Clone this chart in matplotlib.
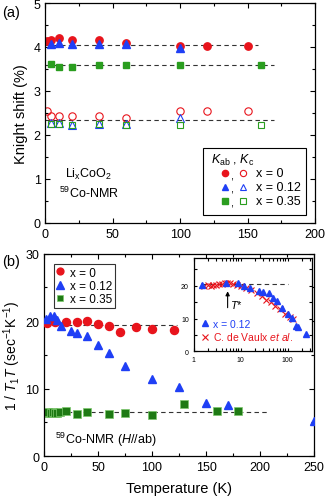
import numpy as np
import matplotlib
matplotlib.use("Agg")
import matplotlib.pyplot as plt
from matplotlib.patches import Rectangle
from matplotlib.ticker import MultipleLocator

plt.rcParams['font.family'] = ['Liberation Sans', 'DejaVu Sans']
plt.rcParams['mathtext.fontset'] = 'custom'
plt.rcParams['mathtext.rm'] = 'Liberation Sans'
plt.rcParams['mathtext.it'] = 'Liberation Sans:italic'

RED = '#e8141c'
BLUE = '#1f3ff5'
GREEN_A = '#2a9d1f'
GREEN_B = '#1e7a14'

# ---- (a) Knight shift ----
T_k0 = [1.5, 4.2, 10, 20, 40, 60, 100, 120, 150]
Kab_0 = [4.14, 4.17, 4.20, 4.15, 4.15, 4.09, 4.03, 4.03, 4.03]
Kc_0 = [2.54, 2.42, 2.42, 2.44, 2.44, 2.39, 2.55, 2.55, 2.55]

T_k12 = [4.2, 10, 20, 40, 60, 100]
Kab_12 = [4.07, 4.08, 4.06, 4.06, 4.06, 3.98]
Kc_12 = [2.27, 2.27, 2.23, 2.25, 2.25, 2.39]

T_k35 = [4.2, 10, 20, 40, 60, 100, 160]
Kab_35 = [3.61, 3.55, 3.55, 3.58, 3.60, 3.60, 3.60]
Kc_35 = [2.24, 2.24, 2.22, 2.24, 2.22, 2.22, 2.23]

# guide lines in (a): level, T start, T end
guides_a = [(4.05, 0, 158), (3.60, 0, 170), (2.33, 0, 170)]

# ---- (b) 1/T1T ----
T_r0 = [3, 10, 20, 30, 40, 50, 60, 70, 85, 100, 120]
r_0 = [19.7, 19.8, 19.8, 19.9, 20.0, 19.5, 19.3, 18.4, 19.1, 18.8, 18.7]

T_r12 = [1.5, 5, 9, 12, 16, 25, 30, 40, 50, 60, 75, 100, 125, 150, 170, 250]
r_12 = [20.3, 20.8, 20.8, 20.1, 19.3, 18.5, 18.2, 17.8, 16.4, 15.3, 13.3,
        11.4, 10.2, 7.8, 7.6, 5.2]

T_r35 = [2, 4, 6, 8, 10, 12, 15, 20, 30, 40, 60, 75, 100, 130, 160, 180]
r_35 = [6.4, 6.5, 6.4, 6.5, 6.4, 6.4, 6.5, 6.6, 6.2, 6.5, 6.2, 6.3, 6.1,
        7.7, 6.6, 6.6]

guides_b = [(19.4, 0, 123), (6.5, 0, 208)]

# de Vaulx et al. (inset)
T_dv = [1.7, 2.0, 2.3, 2.6, 3.0, 3.5, 4.0, 4.6, 5.2, 6.0, 7.0, 8.5, 10,
        13, 17, 22, 28, 35, 45, 55, 70, 90, 110, 130]
r_dv = [20.0, 20.2, 20.1, 20.3, 20.4, 20.5, 20.6, 20.9, 21.0, 20.8, 20.5,
        20.3, 20.0, 19.5, 18.8, 17.8, 16.8, 15.8, 15.0, 14.0, 12.8, 11.3,
        10.5, 10.0]
guide_inset = (20.5, 1.5, 100)
T_star = 5.3

fig = plt.figure(figsize=(3.27, 5.02), dpi=100)

def style(ax):
    ax.tick_params(which='both', direction='in', top=True, right=True,
                   labelsize=9, width=0.8)
    ax.tick_params(which='major', length=3.5)
    ax.tick_params(which='minor', length=2)
    for s in ax.spines.values():
        s.set_linewidth(0.9)

# ---------------- panel (a) ----------------
axa = fig.add_axes([0.139, 0.554, 0.824, 0.438])
style(axa)
for y0, x0, x1 in guides_a:
    axa.plot([x0, x1], [y0, y0], ls=(0, (4, 3)), color='#333333', lw=0.8, zorder=1)
ms = 5.3
axa.plot(T_k0, Kc_0, 'o', mfc='none', mec=RED, mew=0.8, ms=ms)
axa.plot(T_k12, Kc_12, '^', mfc='none', mec=BLUE, mew=0.8, ms=ms)
axa.plot(T_k35, Kc_35, 's', mfc='none', mec=GREEN_A, mew=0.8, ms=ms - 0.5)
axa.plot(T_k35, Kab_35, 's', color=GREEN_A, ms=ms - 0.3)
axa.plot(T_k0, Kab_0, 'o', color=RED, ms=ms)
axa.plot(T_k12, Kab_12, '^', color=BLUE, ms=ms)
axa.set_xlim(0, 200)
axa.set_ylim(0, 5)
axa.xaxis.set_major_locator(MultipleLocator(50))
axa.xaxis.set_minor_locator(MultipleLocator(25))
axa.yaxis.set_major_locator(MultipleLocator(1))
axa.yaxis.set_minor_locator(MultipleLocator(0.5))
axa.set_ylabel('Knight shift (%)', fontsize=10.5, labelpad=4)
axa.text(0.16, 0.225, r'Li$_{\rm x}$CoO$_2$', transform=axa.transAxes,
         ha='center', va='center', fontsize=9)
axa.text(0.16, 0.14, r'$^{59}$Co-NMR', transform=axa.transAxes,
         ha='center', va='center', fontsize=9)

# hand-made legend (filled , open)
tr = axa.transAxes
axa.add_patch(Rectangle((0.584, 0.036), 0.383, 0.305, transform=tr,
                        fill=True, fc='white', ec='black', lw=0.8, zorder=5))
axa.text(0.613, 0.29, r'$K_{\rm ab}$ , $K_{\rm c}$', transform=tr, fontsize=9,
         ha='left', va='center', zorder=6)
rows = [('o', RED, RED, 'x = 0', 0.227),
        ('^', BLUE, BLUE, 'x = 0.12', 0.165),
        ('s', GREEN_A, GREEN_A, 'x = 0.35', 0.101)]
for mk, fc, ec, lab, yy in rows:
    axa.plot([0.666], [yy], mk, color=fc, ms=4.5, transform=tr, zorder=6,
             clip_on=False)
    axa.text(0.69, yy - 0.01, ',', transform=tr, fontsize=8, ha='center',
             va='center', zorder=6)
    axa.plot([0.732], [yy], mk, mfc='none', mec=ec, mew=0.8, ms=4.5,
             transform=tr, zorder=6, clip_on=False)
    axa.text(0.781, yy, lab, transform=tr, fontsize=9, ha='left',
             va='center', zorder=6)

fig.text(0.005, 0.975, '(a)', fontsize=10.5, ha='left', va='center')

# ---------------- panel (b) ----------------
axb = fig.add_axes([0.135, 0.0896, 0.825, 0.4034])
style(axb)
for y0, x0, x1 in guides_b:
    axb.plot([x0, x1], [y0, y0], ls=(0, (4, 3)), color='#333333', lw=0.8, zorder=1)
axb.plot(T_r35, r_35, 's', color=GREEN_B, mec='#7cc86c', mew=0.5, ms=5.3,
         label='x = 0.35')
axb.plot(T_r0, r_0, 'o', color=RED, ms=5.8, label='x = 0', zorder=3)
axb.plot(T_r12, r_12, '^', color=BLUE, ms=6.2, label='x = 0.12', zorder=4)
axb.set_xlim(0, 250)
axb.set_ylim(0, 30)
axb.xaxis.set_major_locator(MultipleLocator(50))
axb.xaxis.set_minor_locator(MultipleLocator(25))
axb.yaxis.set_major_locator(MultipleLocator(10))
axb.yaxis.set_minor_locator(MultipleLocator(5))
axb.set_xlabel('Temperature (K)', fontsize=10.5, labelpad=6)
axb.set_ylabel(r'1 / $T_1T$ (sec$^{-1}$K$^{-1}$)', fontsize=10, labelpad=2)
h, l = axb.get_legend_handles_labels()
order = [1, 2, 0]
leg = axb.legend([h[i] for i in order], [l[i] for i in order],
                 loc='upper left', bbox_to_anchor=(0.035, 0.95), fontsize=8.5,
                 frameon=True, fancybox=False, edgecolor='black',
                 handlelength=0.6, handletextpad=0.5, borderpad=0.25,
                 labelspacing=0.1, borderaxespad=0, markerscale=0.85)
leg.get_frame().set_linewidth(0.8)
axb.text(10.5, 2.5, r'$^{59}$Co-NMR ($H$//ab)', fontsize=9, ha='left',
         va='center')
fig.text(0.005, 0.478, '(b)', fontsize=10.5, ha='left', va='center')

# ---------------- inset ----------------
axi = fig.add_axes([0.592, 0.298, 0.362, 0.186])
style(axi)
axi.tick_params(which='both', labelsize=5, length=2)
axi.set_xscale('log')
axi.set_xlim(1, 330)
axi.set_ylim(0, 28.5)
axi.yaxis.set_major_locator(MultipleLocator(10))
axi.yaxis.set_minor_locator(MultipleLocator(5))
axi.xaxis.set_major_formatter(matplotlib.ticker.FuncFormatter(
    lambda v, p: '%g' % v))
g0, g1, g2 = guide_inset
axi.plot([g1, g2], [g0, g0], ls=(0, (4, 3)), color='#333333', lw=0.8, zorder=1)
axi.plot(T_dv, r_dv, 'x', color=RED, ms=4, mew=0.8,
         label=r'C. de Vaulx $et$ $al.$', zorder=2)
axi.plot(T_r12, r_12, '^', color=BLUE, ms=4.5, label='x = 0.12', zorder=3)
axi.annotate('', xy=(T_star, 19.2), xytext=(T_star, 12.5),
             arrowprops=dict(arrowstyle='-|>', color='black', lw=0.8,
                             mutation_scale=6))
axi.text(T_star * 1.12, 14.5, r'$T$*', fontsize=8, ha='left', va='center')
hi, li = axi.get_legend_handles_labels()
axi.legend([hi[1], hi[0]], [li[1], li[0]], loc='lower left',
           bbox_to_anchor=(0.0, 0.02), fontsize=7.5, frameon=False,
           handlelength=0.8, handletextpad=0.4, borderpad=0.2,
           labelspacing=0.15, labelcolor=[BLUE, RED])

fig.savefig('out.png', dpi=100)
